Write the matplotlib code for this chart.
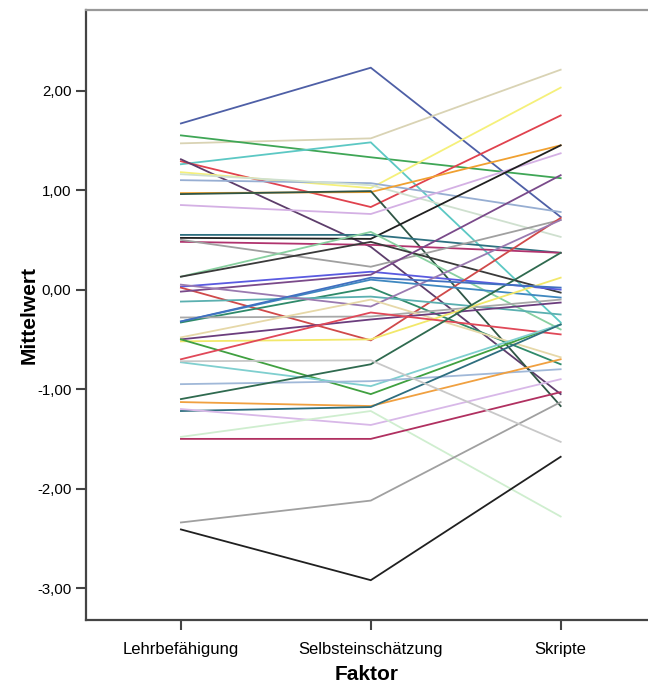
import matplotlib
matplotlib.use("Agg")
import matplotlib.pyplot as plt

factors = ["Lehrbefähigung", "Selbsteinschätzung", "Skripte"]

# one profile per person: (Lehrbefähigung, Selbsteinschätzung, Skripte)
lehr = [1.67, 1.47, 1.55, 1.26, 1.29, 1.31, 1.18, 1.10, 1.16, 0.97,
        0.96, 0.85, 0.52, 0.55, 0.48, 0.50, 0.13, 0.13, 0.03, 0.02,
        -0.02, -0.32, -0.33, -0.12, 0.05, -0.28, -0.48, -0.50, -0.52, -0.50,
        -0.70, -0.73, -0.95, -1.10, -1.13, -1.22, -1.20, -1.48, -1.50, -2.34,
        -2.41, -0.72, -0.32]
selbst = [2.23, 1.52, 1.33, 1.48, 0.83, 0.43, 1.02, 1.07, 1.05, 0.98,
          0.99, 0.76, 0.51, 0.55, 0.45, 0.23, 0.58, 0.48, 0.18, -0.51,
          0.15, 0.10, 0.02, -0.07, -0.17, -0.27, -0.10, -0.30, -0.50, -1.05,
          -0.23, -0.97, -0.92, -0.75, -1.17, -1.18, -1.36, -1.22, -1.50, -2.12,
          -2.92, -0.71, 0.12]
skripte = [0.73, 2.21, 1.12, -0.33, 1.75, -1.05, 2.03, 0.78, 0.53, 1.45,
           -1.17, 1.37, 1.45, 0.37, 0.37, 0.70, -0.40, -0.03, 0.00, 0.72,
           1.15, -0.08, -0.75, -0.25, 0.70, -0.10, -0.68, -0.13, 0.12, -0.35,
           -0.45, -0.35, -0.80, 0.37, -0.70, -0.35, -0.90, -2.28, -1.03, -1.13,
           -1.68, -1.53, 0.02]
colors = ["#4e5fa6", "#d9d3b4", "#3fa656", "#5cc8c4", "#e0424e", "#5d3d6b",
          "#f5f07a", "#97aed2", "#cfe0cf", "#f0a030", "#2f5545", "#d4b0e4",
          "#202020", "#2e7080", "#b0336e", "#a0a0a0", "#88d0a0", "#3a3a3a",
          "#5a5ae0", "#d04a4a", "#7a4a8a", "#3f88c0", "#2f8a6a", "#5bb0b0",
          "#9a7ab0", "#a8a8a8", "#e6d8a8", "#6b3d7d", "#f2e86a", "#40a040",
          "#e04858", "#7fcfcf", "#a0b8d8", "#2f6a4f", "#f0a040", "#2e6e7e",
          "#d8b8e8", "#cfeecf", "#b03060", "#a0a0a0", "#202020", "#c8c8c8",
          "#4070c0"]

y_ticks = [2, 1, 0, -1, -2, -3]

plt.rcParams["font.family"] = ["Liberation Sans", "DejaVu Sans"]

fig = plt.figure(figsize=(6.48, 6.85), dpi=100)
ax = fig.add_axes([0.1327, 0.0949, 0.8673, 0.8905])

x = list(range(len(factors)))
for l, s, k, c in zip(lehr, selbst, skripte, colors):
    ax.plot(x, [l, s, k], color=c, linewidth=1.3, solid_joinstyle="miter")

ax.set_xlim(-0.5, 2.46)
ax.set_ylim(-3.32, 2.81)
ax.set_xticks(x)
ax.set_xticklabels(factors, fontsize=12)
ax.set_yticks(y_ticks)
ax.set_yticklabels([f"{v:.2f}".replace(".", ",") for v in y_ticks], fontsize=10.8)

for side in ["left", "bottom"]:
    ax.spines[side].set_color("#444444")
    ax.spines[side].set_linewidth(1.6)
ax.spines["top"].set_color("#999999")
ax.spines["top"].set_linewidth(1.6)
ax.spines["right"].set_visible(False)

ax.tick_params(direction="out", length=7.5, width=1.5, color="#444444", pad=3)
ax.tick_params(axis="x", pad=8)
ax.set_ylabel("Mittelwert", fontsize=15, fontweight="bold", labelpad=-1)
ax.set_xlabel("Faktor", fontsize=15, fontweight="bold", labelpad=6)

fig.savefig("out.png", dpi=100)
